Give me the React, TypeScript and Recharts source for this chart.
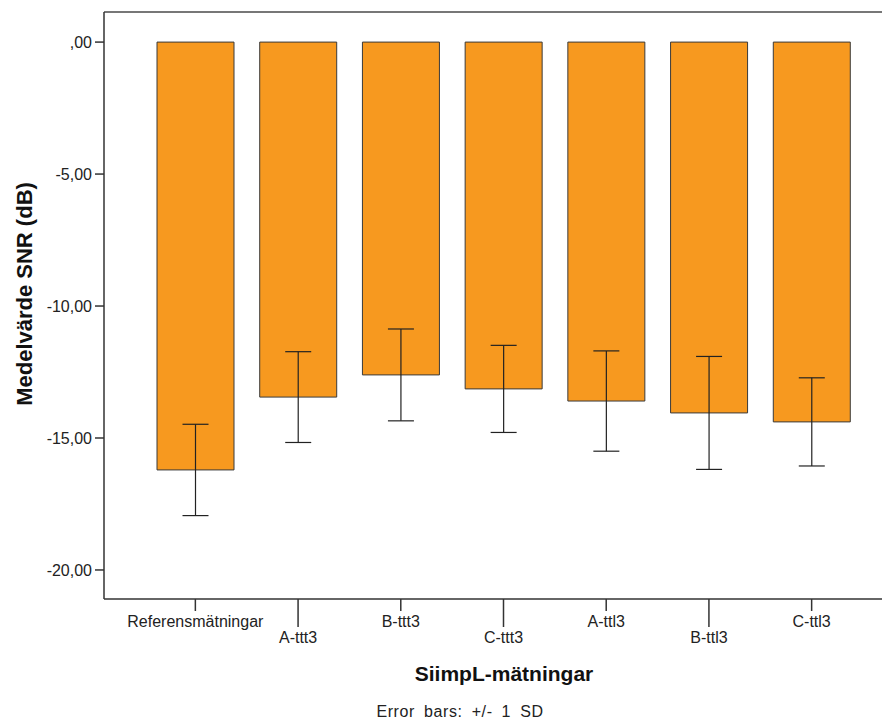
import { Bar, BarChart, ErrorBar, ReferenceLine, XAxis, YAxis } from "recharts";

const categories = [
  "Referensmätningar",
  "A-ttt3",
  "B-ttt3",
  "C-ttt3",
  "A-ttl3",
  "B-ttl3",
  "C-ttl3",
];
const meanSnr = [-16.21, -13.45, -12.61, -13.14, -13.6, -14.05, -14.39];
const sdSnr = [1.73, 1.72, 1.74, 1.65, 1.9, 2.14, 1.67];
const yTicks = [0, -5, -10, -15, -20];
const yDomain = [-21.1, 1.14];

const data = categories.map((name, i) => ({
  name,
  mean: meanSnr[i],
  sd: sdSnr[i],
}));

const FONT = '"Liberation Sans", Arial, sans-serif';
const AXIS = "#333";

function formatTick(v: number) {
  if (v === 0) return ",00";
  return v.toFixed(2).replace(".", ",");
}

// staggered category labels, every other one on a longer tick
function CategoryTick(props: any) {
  const { x, y, payload, index } = props;
  const long = index % 2 === 1;
  const len = long ? 28 : 12;
  return (
    <g>
      <line x1={x} x2={x} y1={y} y2={y + len} stroke={AXIS} strokeWidth={1.5} />
      <text
        x={x}
        y={y + len + 10}
        textAnchor="middle"
        dominantBaseline="central"
        fontSize={16}
        fill="#222"
        fontFamily={FONT}
      >
        {payload.value}
      </text>
    </g>
  );
}

export default function App() {
  return (
    <div
      style={{
        position: "relative",
        width: 890,
        height: 726,
        margin: -8,
        overflow: "hidden",
        background: "#fff",
        fontFamily: FONT,
      }}
    >
      <BarChart
        width={910}
        height={700}
        data={data}
        margin={{ top: 12, right: 7, bottom: 0, left: 0 }}
        barSize={77}
      >
        <XAxis
          dataKey="name"
          height={101}
          tickSize={0}
          tickMargin={0}
          tickLine={false}
          interval={0}
          axisLine={{ stroke: AXIS, strokeWidth: 1.5 }}
          padding={{ left: 40, right: 40 }}
          tick={<CategoryTick />}
          label={{
            content: () => (
              <text
                x={504}
                y={673}
                textAnchor="middle"
                dominantBaseline="central"
                fontSize={21}
                fontWeight="bold"
                fill="#111"
                fontFamily={FONT}
              >
                SiimpL-mätningar
              </text>
            ),
          }}
        />
        <YAxis
          width={104}
          domain={yDomain}
          ticks={yTicks}
          allowDataOverflow
          tickFormatter={formatTick}
          tickSize={9}
          tickMargin={3}
          tickLine={{ stroke: AXIS, strokeWidth: 1.5 }}
          axisLine={{ stroke: AXIS, strokeWidth: 1.5 }}
          tick={{ fontSize: 16, fill: "#222", fontFamily: FONT }}
          label={{
            content: () => (
              <text
                x={24}
                y={294}
                transform="rotate(-90, 24, 294)"
                textAnchor="middle"
                dominantBaseline="central"
                fontSize={22}
                fontWeight="bold"
                fill="#111"
                fontFamily={FONT}
              >
                Medelvärde SNR (dB)
              </text>
            ),
          }}
        />
        <ReferenceLine y={yDomain[1]} stroke="#777" strokeWidth={2} />
        <Bar
          dataKey="mean"
          fill="#F7991F"
          stroke="#3a3a3a"
          strokeWidth={1}
          isAnimationActive={false}
        >
          <ErrorBar
            dataKey="sd"
            width={13}
            stroke="#222"
            strokeWidth={1.2}
            direction="y"
            isAnimationActive={false}
          />
        </Bar>
      </BarChart>
      <div
        style={{
          position: "absolute",
          left: 0,
          width: 920,
          top: 703,
          lineHeight: "18px",
          textAlign: "center",
          fontSize: 16,
          letterSpacing: 0.6,
          wordSpacing: 4,
          color: "#222",
        }}
      >
        Error bars: +/- 1 SD
      </div>
    </div>
  );
}
